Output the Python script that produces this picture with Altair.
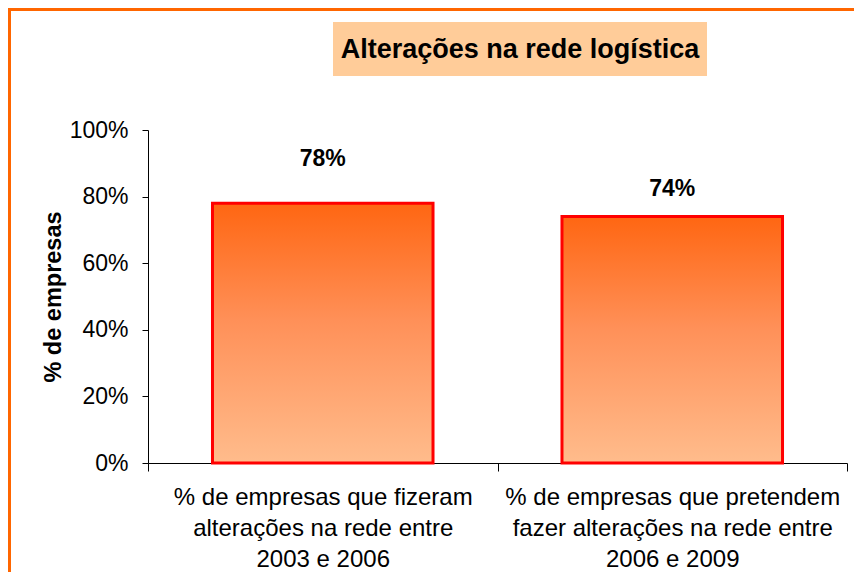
import altair as alt
import pandas as pd

# ---- data ----
categories = [
    "% de empresas que fizeram\nalterações na rede entre\n2003 e 2006",
    "% de empresas que pretendem\nfazer alterações na rede entre\n2006 e 2009",
]
values = [0.78, 0.74]
chart_title = "Alterações na rede logística"
y_title = "% de empresas"
y_ticks = [0, 0.2, 0.4, 0.6, 0.8, 1.0]

FONT = "Liberation Sans"

df = pd.DataFrame({"category": categories, "value": values})
title_df = pd.DataFrame({"t": [chart_title]})

x_enc = alt.X(
    "category:N",
    sort=None,
    scale=alt.Scale(paddingInner=0, paddingOuter=0),
    axis=alt.Axis(
        title=None,
        labelAngle=0,
        labelExpr="split(datum.label, '\\n')",
        labelFontSize=24,
        labelLineHeight=31,
        labelPadding=14,
        labelBaseline="top",
        tickBand="extent",
        tickSize=8,
        labelLimit=400,
    ),
)
y_enc = alt.Y(
    "value:Q",
    scale=alt.Scale(domain=[0, 1]),
    axis=alt.Axis(
        values=y_ticks,
        format=".0%",
        title=y_title,
        titleFontSize=23.5,
        titleFontWeight="bold",
        titlePadding=4,
        labelFontSize=23,
        labelPadding=14,
        tickSize=6,
        grid=False,
    ),
)

gradient = alt.Gradient(
    gradient="linear",
    stops=[
        alt.GradientStop(color="#FF6612", offset=0),
        alt.GradientStop(color="#FF9058", offset=0.45),
        alt.GradientStop(color="#FFBC8C", offset=1),
    ],
    x1=0, x2=0, y1=0, y2=1,
)

bars = alt.Chart(df).mark_bar(
    width=alt.RelativeBandSize(0.631),
    color=gradient,
    stroke="#FF0000",
    strokeWidth=3,
).encode(x=x_enc, y=y_enc)

labels = alt.Chart(df).mark_text(
    font=FONT,
    fontSize=23,
    fontWeight="bold",
    color="black",
    baseline="middle",
    dy=alt.expr("datum.value > 0.76 ? -44 : -28"),
).encode(
    x=alt.X("category:N", sort=None),
    y=alt.Y("value:Q"),
    text=alt.Text("value:Q", format=".0%"),
)

# decorative orange frame (left and top edges visible)
frame_left = alt.Chart(title_df).mark_rule(color="#FF6600", strokeWidth=5).encode(
    x=alt.value(-139.5), y=alt.value(-124), y2=alt.value(2000),
)
frame_top = alt.Chart(title_df).mark_rule(color="#FF6600", strokeWidth=5).encode(
    x=alt.value(-142), x2=alt.value(2000), y=alt.value(-121.5),
)

# title background box
title_box = alt.Chart(title_df).mark_rect(color="#FFCC99").encode(
    x=alt.value(185), x2=alt.value(559),
    y=alt.value(-108), y2=alt.value(-54),
)

title_text = alt.Chart(title_df).mark_text(
    font=FONT, fontSize=27, fontWeight="bold", color="black",
    align="center", baseline="middle",
).encode(
    x=alt.value(372), y=alt.value(-80),
    text=alt.Text("t:N"),
)

chart = alt.layer(frame_left, frame_top, title_box, title_text, bars, labels).properties(
    width=699,
    height=333,
    autosize=alt.AutoSizeParams(type="none"),
    padding={"left": 140, "top": 122, "right": 7, "bottom": 109},
    background="white",
).configure_view(stroke=None).configure_axis(
    labelFont=FONT,
    titleFont=FONT,
    labelColor="black",
    titleColor="black",
    domainColor="black",
    tickColor="black",
    domainWidth=1,
    tickWidth=1,
)

chart.save("out.html", embed_options={"renderer": "svg", "actions": False})
